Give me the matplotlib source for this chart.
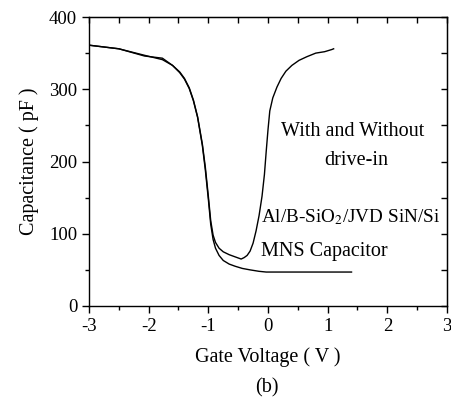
import matplotlib
matplotlib.use("Agg")
import matplotlib.pyplot as plt
from matplotlib.ticker import MultipleLocator

plt.rcParams['font.family'] = ['Liberation Serif', 'DejaVu Serif']
plt.rcParams['mathtext.fontset'] = 'stix'
plt.rcParams['axes.unicode_minus'] = False

# curve with the rising branch (minimum near -0.45 V)
v_a = [-3.0, -2.5, -2.07, -1.77, -1.6, -1.48, -1.4, -1.32, -1.25, -1.18,
       -1.1, -1.05, -1.0, -0.96, -0.92, -0.88, -0.82, -0.75, -0.65, -0.55,
       -0.45, -0.4, -0.35, -0.3, -0.25, -0.2, -0.15, -0.1, -0.06, -0.03,
       0.0, 0.03, 0.08, 0.15, 0.22, 0.3, 0.4, 0.52, 0.65, 0.8, 0.95, 1.07, 1.1]
c_a = [361, 356, 347, 341, 333, 324, 315, 302, 285, 262,
       224, 192, 152, 118, 98, 88, 80, 75, 71, 68,
       65, 67, 70, 76, 87, 104, 125, 152, 182, 214,
       244, 270, 288, 303, 315, 325, 333, 340, 345, 350, 352, 355, 356]

# curve that flattens out (ends at 1.4 V)
v_b = [-3.0, -2.5, -2.07, -1.77, -1.6, -1.48, -1.4, -1.32, -1.25, -1.18,
       -1.1, -1.05, -1.0, -0.96, -0.92, -0.88, -0.82, -0.75, -0.65, -0.55,
       -0.43, -0.3, -0.15, -0.03, 0.2, 0.6, 1.0, 1.4]
c_b = [361, 356, 346, 343, 333, 323, 314, 301, 284, 261,
       222, 188, 148, 113, 92, 80, 70, 63, 58, 55,
       52, 50, 48, 47, 47, 47, 47, 47]

fig = plt.figure(figsize=(4.52, 4.08), dpi=100)
ax = fig.add_axes([89 / 452, 1 - 306 / 408, 358 / 452, 289 / 408])

ax.plot(v_a, c_a, color='black', lw=1.0)
ax.plot(v_b, c_b, color='black', lw=1.0)

ax.set_xlim(-3, 3)
ax.set_ylim(0, 400)
ax.xaxis.set_major_locator(MultipleLocator(1))
ax.xaxis.set_minor_locator(MultipleLocator(0.5))
ax.yaxis.set_major_locator(MultipleLocator(100))
ax.yaxis.set_minor_locator(MultipleLocator(50))
ax.tick_params(which='major', direction='out', length=5, width=1, labelsize=13.5)
ax.tick_params(which='minor', direction='out', length=3, width=1)

# inward ticks on top and right
top = ax.secondary_xaxis('top')
top.set_xticks([-3 + 0.5 * i for i in range(13)])
top.tick_params(direction='in', length=4, width=1, labeltop=False)
top.set_xticklabels([])
right = ax.secondary_yaxis('right')
right.set_yticks([50 * i for i in range(9)])
right.tick_params(direction='in', length=4, width=1, labelright=False)
right.set_yticklabels([])

for s in ax.spines.values():
    s.set_linewidth(1)

ax.set_xlabel('Gate Voltage ( V )', fontsize=14.5, labelpad=9)
ax.set_ylabel('Capacitance ( pF )', fontsize=14.5, labelpad=7)

ax.text(1.42, 242, 'With and Without', fontsize=14.5, ha='center', va='center')
ax.text(1.48, 202, 'drive-in', fontsize=14.5, ha='center', va='center')
ax.text(-0.12, 123, r'Al/B-SiO$_2$/JVD SiN/Si', fontsize=13.8, ha='left', va='center')
ax.text(-0.12, 75, 'MNS Capacitor', fontsize=14.5, ha='left', va='center')

fig.text(267 / 452, 1 - 388 / 408, '(b)', fontsize=14.5, ha='center', va='center')

fig.savefig('out.png', dpi=100)
